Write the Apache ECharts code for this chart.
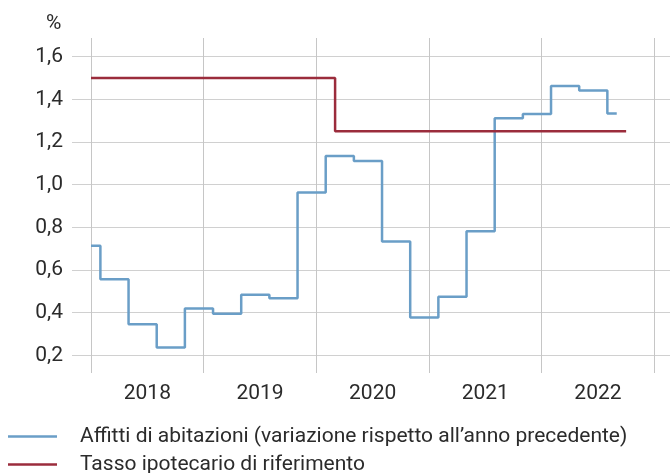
<!DOCTYPE html>
<html>
<head>
<meta charset="utf-8">
<script src="https://cdn.jsdelivr.net/npm/echarts@6/dist/echarts.min.js"></script>
<style>
  html, body { margin: 0; padding: 0; background: #fff; }
  #chart { width: 670px; height: 473px; }
</style>
</head>
<body>
<div id="chart"></div>
<script>
// year bands on the x axis
const years = ['2018', '2019', '2020', '2021', '2022'];

// rents: quarterly step values, each valid from the given month
const rentMonths = ['2018-01', '2018-02', '2018-05', '2018-08', '2018-11', '2019-02', '2019-05', '2019-08',
  '2019-11', '2020-02', '2020-05', '2020-08', '2020-11', '2021-02', '2021-05', '2021-08',
  '2021-11', '2022-02', '2022-05', '2022-08', '2022-09'];
const rentValues = [0.714, 0.556, 0.345, 0.237, 0.42, 0.395, 0.484, 0.468,
  0.963, 1.134, 1.111, 0.733, 0.377, 0.475, 0.782, 1.311,
  1.331, 1.463, 1.441, 1.334, 1.334];

// reference mortgage rate
const rateMonths = ['2018-01', '2020-03', '2022-10'];
const rateValues = [1.5, 1.25, 1.25];

const rentName = 'Affitti di abitazioni (variazione rispetto all’anno precedente)';
const rateName = 'Tasso ipotecario di riferimento';

const toX = s => {
  const [y, m] = s.split('-').map(Number);
  return y + (m - 1) / 12;
};
const pairs = (months, vals) => months.map((m, i) => [toX(m), vals[i]]);

// pixel layout
const W = 670, H = 473;
const plotTop = 38, plotBottom = 373;
const yTop = 56.7, yBot = 355.3;           // pixel rows of 1.6 and 0.2
const pxPerUnit = (yBot - yTop) / 1.4;
const vTop = 1.6 + (yTop - plotTop) / pxPerUnit;
const vBot = 0.2 - (plotBottom - yBot) / pxPerUnit;

const font = 'Roboto, "Liberation Sans", sans-serif';
const txt = '#2b2b2b';
const blue = '#6a9ec7';
const red = '#9b2c3c';
const fs = 21;
const legendIcon = 'path://M0,6 L49,6 L49,8.5 L0,8.5 Z';

const legendItem = (name, color, top) => ({
  left: 3, top: top, itemWidth: 49, itemHeight: 14,
  textStyle: { fontSize: fs, color: txt, fontFamily: font, padding: [0, 0, 0, 18] },
  data: [{ name: name, icon: legendIcon, itemStyle: { color: color } }]
});

const chart = echarts.init(document.getElementById('chart'), null, { renderer: 'canvas' });
chart.setOption({
  animation: false,
  textStyle: { fontFamily: font },
  title: {
    text: '%', left: 41, top: 8,
    textStyle: { fontSize: fs, fontWeight: 'normal', color: txt, fontFamily: font }
  },
  grid: [
    { left: 72, right: 0, top: yTop, bottom: H - yBot },
    { left: 91, right: W - 654.3, top: plotTop, bottom: H - plotBottom }
  ],
  xAxis: [
    { gridIndex: 0, type: 'value', show: false },
    {
      gridIndex: 1, type: 'category', data: years, boundaryGap: true,
      axisLine: { show: false }, axisTick: { show: false },
      axisLabel: { fontSize: fs, color: txt, margin: 10, fontFamily: font },
      splitLine: { show: true, lineStyle: { color: '#c6c6c6', width: 1 } }
    },
    { gridIndex: 1, type: 'value', min: 2018, max: 2023, show: false }
  ],
  yAxis: [
    {
      gridIndex: 0, type: 'value', min: 0.2, max: 1.6, interval: 0.2,
      axisLine: { show: false }, axisTick: { show: false },
      axisLabel: {
        fontSize: fs, color: txt, margin: 9, fontFamily: font,
        formatter: v => v.toFixed(1).replace('.', ',')
      },
      splitLine: { lineStyle: { color: '#d0d0d0', width: 1 } }
    },
    { gridIndex: 1, type: 'value', min: vBot, max: vTop, show: false, splitLine: { show: false } }
  ],
  legend: [
    legendItem(rentName, blue, 421),
    legendItem(rateName, red, 449)
  ],
  series: [
    {
      name: rentName,
      type: 'line', step: 'end', xAxisIndex: 2, yAxisIndex: 1,
      data: pairs(rentMonths, rentValues),
      symbol: 'none', lineStyle: { color: blue, width: 2.5 }, itemStyle: { color: blue }
    },
    {
      name: rateName,
      type: 'line', step: 'end', xAxisIndex: 2, yAxisIndex: 1,
      data: pairs(rateMonths, rateValues),
      symbol: 'none', lineStyle: { color: red, width: 2.5 }, itemStyle: { color: red }
    }
  ]
});
</script>
</body>
</html>
